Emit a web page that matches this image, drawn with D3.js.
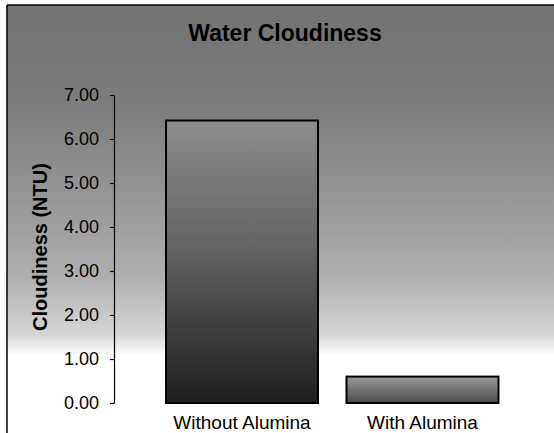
<!DOCTYPE html>
<html>
<head>
<meta charset="utf-8">
<script src="https://cdn.jsdelivr.net/npm/d3@7"></script>
<style>
  html, body { margin: 0; padding: 0; background: #fff; }
  svg { display: block; font-family: "Liberation Sans", Arial, sans-serif; }
</style>
</head>
<body>
<div id="chart"></div>
<script>
var categories = ["Without Alumina", "With Alumina"];
var cloudiness = [6.42, 0.6];
var yTicks = [0, 1, 2, 3, 4, 5, 6, 7];

var W = 554, H = 433;

var svg = d3.select("#chart")
    .append("svg")
        .attr("width", W)
        .attr("height", H);

var defs = svg.append("defs");

// chart area background, dark grey at the top fading to white
var bg = defs.append("linearGradient")
    .attr("id", "bgGrad")
    .attr("x1", 0).attr("y1", 0).attr("x2", 0).attr("y2", 1);
bg.append("stop").attr("offset", "0%").attr("stop-color", "#727272");
bg.append("stop").attr("offset", "25%").attr("stop-color", "#7e7e7e");
bg.append("stop").attr("offset", "45%").attr("stop-color", "#969696");
bg.append("stop").attr("offset", "64%").attr("stop-color", "#b0b0b0");
bg.append("stop").attr("offset", "77%").attr("stop-color", "#d6d6d6");
bg.append("stop").attr("offset", "82%").attr("stop-color", "#ffffff");
bg.append("stop").attr("offset", "100%").attr("stop-color", "#ffffff");

var bar1 = defs.append("linearGradient")
    .attr("id", "barGrad0")
    .attr("x1", 0).attr("y1", 0).attr("x2", 0).attr("y2", 1);
bar1.append("stop").attr("offset", "0%").attr("stop-color", "#8c8c8c");
bar1.append("stop").attr("offset", "45%").attr("stop-color", "#636363");
bar1.append("stop").attr("offset", "100%").attr("stop-color", "#1e1e1e");

var bar2 = defs.append("linearGradient")
    .attr("id", "barGrad1")
    .attr("x1", 0).attr("y1", 0).attr("x2", 0).attr("y2", 1);
bar2.append("stop").attr("offset", "0%").attr("stop-color", "#9a9a9a");
bar2.append("stop").attr("offset", "100%").attr("stop-color", "#4a4a4a");

svg.append("rect")
    .attr("x", 7).attr("y", 5)
    .attr("width", W - 7).attr("height", H - 5)
    .attr("fill", "url(#bgGrad)");

// frame edges
svg.append("line")
    .attr("x1", 7).attr("y1", 5).attr("x2", W).attr("y2", 5)
    .attr("stroke", "#000").attr("stroke-width", 1.5);
svg.append("line")
    .attr("x1", 7).attr("y1", 5).attr("x2", 7).attr("y2", H)
    .attr("stroke", "#000").attr("stroke-width", 1.5);

var xScale = d3.scaleBand()
    .domain(categories)
    .range([151.75, 512.75])
    .paddingInner(0.158)
    .paddingOuter(0.079);

var yScale = d3.scaleLinear()
    .domain([0, 7])
    .range([403, 95]);

// y axis
var yAxis = svg.append("g")
    .attr("transform", "translate(114,0)")
    .call(d3.axisLeft(yScale)
        .tickValues(yTicks)
        .tickFormat(d3.format(".2f"))
        .tickSize(4)
        .tickSizeOuter(0)
        .tickPadding(11));
yAxis.select(".domain").attr("stroke", "#000").attr("stroke-width", 1.2);
yAxis.selectAll(".tick line").attr("stroke", "#000").attr("stroke-width", 1.2);
yAxis.selectAll(".tick text")
    .attr("fill", "#000")
    .style("font-size", "18px")
    .style("font-family", "'Liberation Sans', Arial, sans-serif");

// bars
svg.selectAll(".bar")
    .data(cloudiness)
    .enter()
        .append("rect")
            .attr("class", "bar")
            .attr("x", function(d, i) { return xScale(categories[i]); })
            .attr("y", function(d) { return yScale(d); })
            .attr("width", xScale.bandwidth())
            .attr("height", function(d) { return yScale(0) - yScale(d); })
            .attr("fill", function(d, i) { return "url(#barGrad" + i + ")"; })
            .attr("stroke", "#000")
            .attr("stroke-width", 2);

// category labels
svg.selectAll(".cat")
    .data(categories)
    .enter()
        .append("text")
            .attr("class", "cat")
            .attr("x", function(d) { return xScale(d) + xScale.bandwidth() / 2; })
            .attr("y", 429)
            .attr("text-anchor", "middle")
            .style("font-size", "19px")
            .text(function(d) { return d; });

// title
svg.append("text")
    .attr("x", 285)
    .attr("y", 41)
    .attr("text-anchor", "middle")
    .style("font-size", "23px")
    .style("font-weight", "bold")
    .text("Water Cloudiness");

// y axis title
svg.append("text")
    .attr("transform", "translate(47,247) rotate(-90)")
    .attr("text-anchor", "middle")
    .style("font-size", "20px")
    .style("font-weight", "bold")
    .text("Cloudiness (NTU)");
</script>
</body>
</html>
